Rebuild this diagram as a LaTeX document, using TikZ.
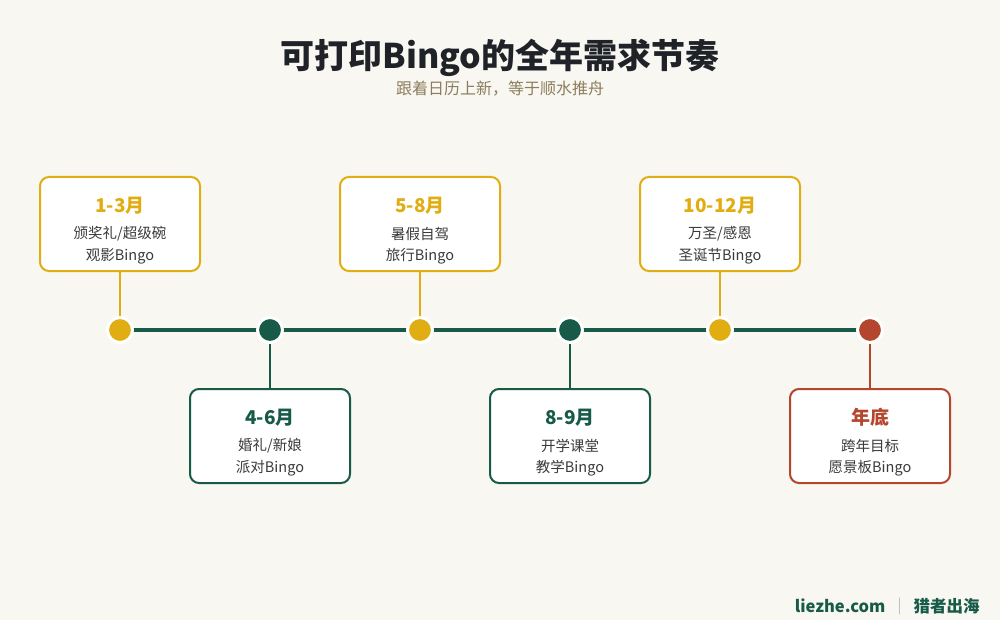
\documentclass[tikz,border=0pt]{standalone}
\usepackage{fontspec}
\setmainfont{Noto Sans CJK SC}
\usetikzlibrary{positioning,calc}

\definecolor{bgpaper}{HTML}{F9F7F2}
\definecolor{goldc}{HTML}{E0AE12}
\definecolor{greenc}{HTML}{175A48}
\definecolor{redc}{HTML}{B4462D}
\definecolor{inkc}{HTML}{1F2328}
\definecolor{subc}{HTML}{8C7D5C}
\definecolor{bodyc}{HTML}{3A3A3A}

\tikzset{
  monthbox/.style={draw=#1,line width=2pt,fill=white,rounded corners=9pt,
    minimum width=160pt,minimum height=94pt,inner sep=0pt},
  monthhead/.style={text=#1,font=\fontsize{19}{22}\selectfont\bfseries,inner sep=0pt},
  monthline/.style={text=bodyc,font=\fontsize{14.5}{17}\selectfont,inner sep=0pt},
  stem/.style={draw=#1,line width=2pt},
  dotmark/.style={fill=#1,draw=white,line width=3pt,circle,minimum size=25pt,inner sep=0pt}
}

\begin{document}
\begin{tikzpicture}[x=1pt,y=-1pt]
% paper
\fill[bgpaper] (0,0) rectangle (1000,620);
\useasboundingbox (0,0) rectangle (1000,620);

% heading
\node[text=inkc,font=\fontsize{34}{38}\selectfont\bfseries] (title) at (500,58) {可打印Bingo的全年需求节奏};
\node[text=subc,font=\fontsize{16}{18}\selectfont] (subtitle) at (500,89) {跟着日历上新，等于顺水推舟};

% timeline
\coordinate (tstart) at (120,330);
\coordinate (tend) at (870,330);
\draw[greenc,line width=4pt] (tstart) -- (tend);

% months: x / colour / name / head / line1 / line2 / above or below
\foreach \x/\col/\nm/\head/\lineA/\lineB/\side in {
  120/goldc/q1/1-3月/{颁奖礼/超级碗}/观影Bingo/-1,
  270/greenc/q2/4-6月/{婚礼/新娘}/派对Bingo/1,
  420/goldc/q3/5-8月/暑假自驾/旅行Bingo/-1,
  570/greenc/q4/8-9月/开学课堂/教学Bingo/1,
  720/goldc/q5/10-12月/{万圣/感恩}/圣诞节Bingo/-1,
  870/redc/q6/年底/跨年目标/愿景板Bingo/1} {
  \node[monthbox=\col] (\nm box) at (\x,{330+\side*106}) {};
  \draw[stem=\col] (\nm box.\ifnum\side<0 south\else north\fi) -- (\x,330);
  \node[dotmark=\col] (\nm dot) at (\x,330) {};
  \node[monthhead=\col] (\nm head) at ([yshift=-29.5pt]\nm box.north) {\head};
  \node[monthline] (\nm one) at ([yshift=-58pt]\nm box.north) {\lineA};
  \node[monthline] (\nm two) at ([yshift=-80pt]\nm box.north) {\lineB};
}

% footer
\node[text=greenc,font=\fontsize{16.5}{20}\selectfont\bfseries,anchor=east] (site) at (889,606) {liezhe.com};
\node[text=black!25,font=\fontsize{15}{18}\selectfont,right=5pt of site] (sep) {|};
\node[text=greenc,font=\fontsize{16.5}{20}\selectfont\bfseries,right=5pt of sep] (brand) {猎者出海};
\end{tikzpicture}
\end{document}
